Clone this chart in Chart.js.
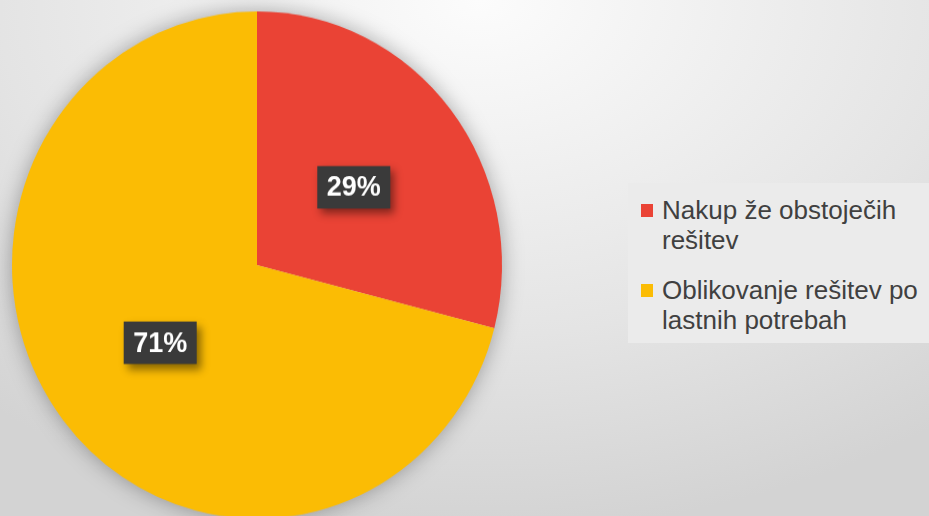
<!DOCTYPE html>
<html>
<head>
<meta charset="utf-8">
<script src="https://cdn.jsdelivr.net/npm/chart.js@4"></script>
<style>
    html, body { margin: 0; padding: 0; }
    body {
        width: 929px; height: 516px; overflow: hidden; position: relative;
        background: radial-gradient(ellipse 800px 560px at 480px 0px, #fcfcfc 0%, #f0f0f0 30%, #e4e4e4 60%, #d3d3d3 95%);
        font-family: "Liberation Sans", Arial, sans-serif;
    }
    #pie { position: absolute; left: 0; top: 0; }
    #legend {
        position: absolute; left: 628px; top: 183px; width: 301px; height: 160px;
        box-sizing: border-box; padding: 12px 0 0 13px;
        background: #ebebeb; color: #404040; font-size: 26px; line-height: 30px;
    }
    .item { display: flex; align-items: flex-start; margin-bottom: 20px; }
    .sw { width: 12px; height: 13px; margin-top: 9px; margin-right: 9px; flex: none; }
    .txt { width: 262px; }
</style>
</head>
<body>
<canvas id="pie" width="929" height="510" style="width:929px;height:528px"></canvas>
<div id="legend"></div>
<script>
// Chart data
const labels = ['Nakup že obstoječih rešitev', 'Oblikovanje rešitev po lastnih potrebah'];
const values = [29, 71];
const colors = ['#EA4335', '#FBBC04'];

// Soft shadow behind the pie
const pieShadow = {
    id: 'pieShadow',
    beforeDatasetsDraw(chart) {
        const arc = chart.getDatasetMeta(0).data[0];
        const ctx = chart.ctx;
        ctx.save();
        ctx.shadowColor = 'rgba(0,0,0,0.35)';
        ctx.shadowBlur = 22;
        ctx.fillStyle = '#d8d8d8';
        ctx.beginPath();
        ctx.arc(arc.x, arc.y, arc.outerRadius - 1, 0, Math.PI * 2);
        ctx.fill();
        ctx.restore();
    }
};

// Percent labels in dark boxes
const boxLabels = {
    id: 'boxLabels',
    afterDatasetsDraw(chart) {
        const ctx = chart.ctx;
        const total = values.reduce((a, b) => a + b, 0);
        chart.getDatasetMeta(0).data.forEach(function(arc, i) {
            const p = arc.tooltipPosition();
            const w = 73, h = 41;
            ctx.save();
            ctx.shadowColor = 'rgba(0,0,0,0.45)';
            ctx.shadowBlur = 8;
            ctx.shadowOffsetX = 4;
            ctx.shadowOffsetY = 5;
            ctx.fillStyle = '#3a3a3a';
            ctx.fillRect(p.x - w / 2, p.y - h / 2, w, h);
            ctx.restore();
            ctx.save();
            ctx.fillStyle = '#ffffff';
            ctx.font = 'bold 27px "Liberation Sans", Arial, sans-serif';
            ctx.textAlign = 'center';
            ctx.textBaseline = 'middle';
            ctx.fillText(Math.round(values[i] / total * 100) + '%', p.x, p.y + 1);
            ctx.restore();
        });
    }
};

new Chart(document.getElementById('pie'), {
    type: 'pie',
    data: {
        labels: labels,
        datasets: [{
            data: values,
            backgroundColor: colors,
            borderWidth: 0
        }]
    },
    options: {
        responsive: false,
        animation: false,
        layout: { padding: { left: 12, right: 427, top: 11, bottom: 9 } },
        plugins: {
            legend: { display: false },
            tooltip: { enabled: false }
        }
    },
    plugins: [pieShadow, boxLabels]
});

// HTML legend
const legendEl = document.getElementById('legend');
labels.forEach(function(label, i) {
    const item = document.createElement('div');
    item.className = 'item';
    item.innerHTML = '<span class="sw" style="background:' + colors[i] + '"></span><span class="txt"></span>';
    item.querySelector('.txt').textContent = label;
    legendEl.appendChild(item);
});
</script>
</body>
</html>
